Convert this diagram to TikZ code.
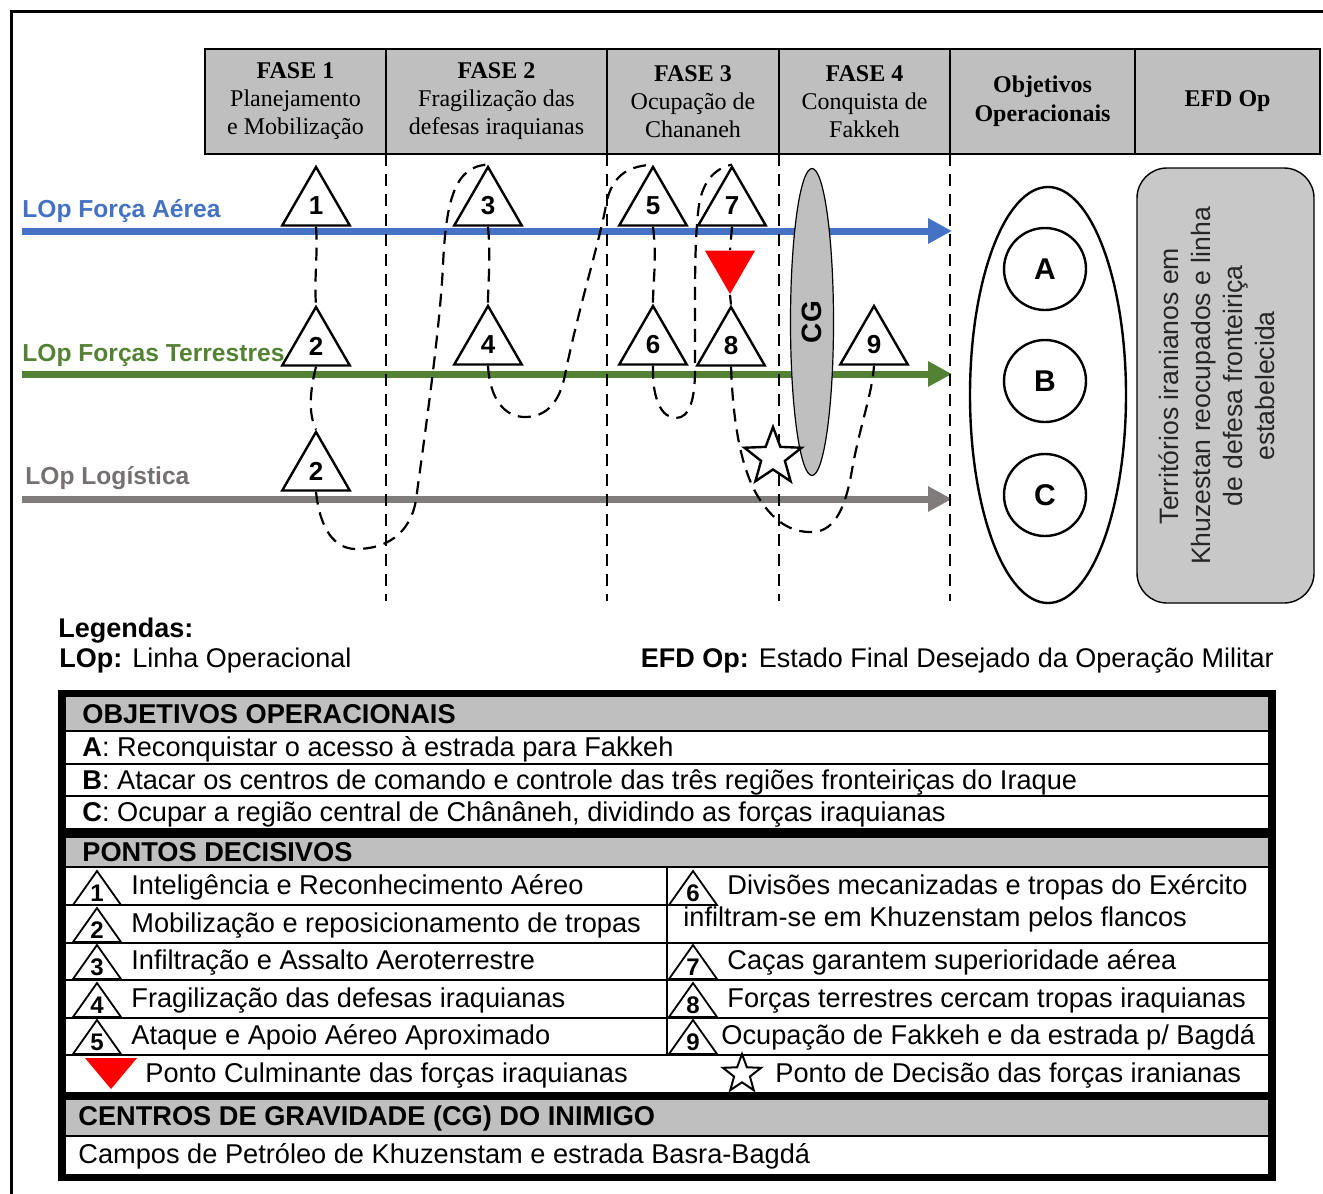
\documentclass[tikz,border=0pt]{standalone}
\usepackage{fontspec}
\setmainfont{Liberation Serif}
\setsansfont{Liberation Sans}
\usetikzlibrary{positioning,arrows.meta,shapes.geometric}

\definecolor{lopblue}{RGB}{68,114,196}
\definecolor{lopgreen}{RGB}{84,130,53}
\definecolor{lopgray}{RGB}{128,124,124}
\definecolor{loptext}{RGB}{118,113,113}
\definecolor{hdrgray}{RGB}{191,191,191}
\definecolor{efdgray}{RGB}{200,200,200}

\begin{document}
\begin{tikzpicture}[x=0.5pt, y=-0.5pt,
  phasebox/.style={draw, line width=0.7pt, fill=hdrgray, inner sep=0pt, outer sep=0pt, minimum height=52.5pt, align=center, font=\rmfamily\fontsize{12}{14}\selectfont},
  phasebold/.style={phasebox, font=\rmfamily\bfseries\fontsize{12}{14.5}\selectfont},
  loplabel/.style={anchor=west, inner sep=0pt, font=\sffamily\bfseries\fontsize{12.3}{14}\selectfont},
  lop/.style={line width=3.5pt, -{Triangle[length=12pt, width=12pt]}},
  phaseline/.style={line width=1.2pt, dash pattern=on 6pt off 4pt},
  route/.style={line width=1.1pt, dash pattern=on 6.5pt off 4pt},
  dpt/.style={regular polygon, regular polygon sides=3, draw, line width=1.2pt, fill=white, minimum size=39pt, inner sep=0pt, font=\sffamily\bfseries\fontsize{13}{13}\selectfont},
  objc/.style={circle, draw, line width=1.2pt, minimum size=41pt, inner sep=0pt, font=\sffamily\bfseries\fontsize{15}{16}\selectfont},
  legtext/.style={anchor=west, inner sep=0pt, font=\sffamily\fontsize{13.5}{16}\selectfont},
  tbltext/.style={anchor=west, inner sep=0pt, yshift=-1.5pt, text height=1.5ex, text depth=.25ex, font=\sffamily\fontsize{13.6}{15}\selectfont},
  tblhead/.style={tbltext, font=\sffamily\bfseries\fontsize{13.6}{15}\selectfont},
  tblline/.style={line width=0.6pt},
  pics/legtri/.style={code={
    \draw[line width=0.9pt, fill=white] (-24,17) -- (0,-17) -- (24,17) -- cycle;
    \node[inner sep=0pt, font=\sffamily\bfseries\fontsize{12}{12}\selectfont] (num) at (0,5) {#1};
  }},
]
\useasboundingbox (0,0) rectangle (1323,1194);
% outer frame
\draw[line width=1.5pt] (11,1194) -- (11,11) -- (1323,11);

% phases header
\node[phasebox, minimum width=90.5pt] (f1) at (295.5,101.5) {\textbf{FASE 1}\\Planejamento\\e Mobilização};
\node[phasebox, minimum width=110.5pt, right=0pt of f1] (f2) {\textbf{FASE 2}\\Fragilização das\\defesas iraquianas};
\node[phasebox, minimum width=86pt, right=0pt of f2] (f3) {\textbf{FASE 3}\\Ocupação de\\Chananeh};
\node[phasebox, minimum width=85.5pt, right=0pt of f3] (f4) {\textbf{FASE 4}\\Conquista de\\Fakkeh};
\node[phasebold, minimum width=92.5pt, right=0pt of f4] (fobj) {Objetivos\\Operacionais};
\node[phasebold, minimum width=92.5pt, right=0pt of fobj] (fefd) {EFD Op};

% lines of operation
\coordinate (aer0) at (22,231);
\coordinate (aer1) at (952,231);
\coordinate (ter0) at (22,374);
\coordinate (ter1) at (952,374);
\coordinate (log0) at (22,499);
\coordinate (log1) at (952,499);
\draw[lop, lopblue] (aer0) -- (aer1);
\draw[lop, lopgreen] (ter0) -- (ter1);
\draw[lop, lopgray] (log0) -- (log1);
\node[loplabel, text=lopblue] (lblaer) at (22,211) {LOp Força Aérea};
\node[loplabel, text=lopgreen] (lblter) at (22,355) {LOp Forças Terrestres};
\node[loplabel, text=loptext] (lbllog) at (25,478) {LOp Logística};

% phase limits
\coordinate (ph1) at (386,601);
\coordinate (ph2) at (607,601);
\coordinate (ph3) at (779,601);
\coordinate (ph4) at (950,601);
\draw[phaseline] (f1.south east) -- (ph1);
\draw[phaseline] (f2.south east) -- (ph2);
\draw[phaseline] (f3.south east) -- (ph3);
\draw[phaseline] (f4.south east) -- (ph4);

% centre of gravity
\node[ellipse, draw, fill=hdrgray, line width=0.6pt, rotate=90, minimum width=153.5pt, minimum height=21.5pt, inner sep=0pt, font=\sffamily\bfseries\fontsize{14}{14}\selectfont] (cg) at (812,322) {CG};

% decisive points
\node[dpt] (p1) at (316,206) {1};
\node[dpt] (p2a) at (316,346) {2};
\node[dpt] (p2b) at (316,471) {2};
\node[dpt] (p3) at (488,206) {3};
\node[dpt] (p4) at (488,345) {4};
\node[dpt] (p5) at (653,206) {5};
\node[dpt] (p6) at (653,345) {6};
\node[dpt] (p7) at (732,206) {7};
\node[dpt] (p8) at (731,346) {8};
\node[dpt] (p9) at (874,345) {9};
\node[regular polygon, regular polygon sides=3, shape border rotate=180, fill=red, minimum size=29pt, inner sep=0pt] (culm) at (730,265) {};

% sequence of decisive points
\draw[route] (p1.south) .. controls (318,255) and (314,280) .. (p2a.north);
\draw[route] (p2a.south) .. controls (309,395) and (309,415) .. (p2b.north);
\draw[route] (p2b.south) .. controls (320,530) and (335,549) .. (356,549)
  .. controls (385,549) and (410,535) .. (416,500)
  .. controls (424,440) and (440,330) .. (443,265)
  .. controls (446,200) and (455,166) .. (p3.north);
\draw[route] (p3.south) .. controls (491,260) and (488,280) .. (p4.north);
\draw[route] (p4.south) .. controls (490,400) and (505,417) .. (525,417)
  .. controls (548,417) and (560,400) .. (565,375)
  .. controls (578,310) and (600,240) .. (606,205)
  .. controls (612,172) and (632,166) .. (p5.north);
\draw[route] (p5.south) .. controls (657,260) and (653,280) .. (p6.north);
\draw[route] (p6.south) .. controls (652,400) and (662,418) .. (676,418)
  .. controls (690,418) and (695,398) .. (695,370)
  .. controls (695,300) and (694,240) .. (699,205)
  .. controls (703,180) and (716,168) .. (p7.north);
\draw[route] (p7.south) -- (culm.north);
\draw[route] (culm.south) -- (p8.north);
\draw[route] (p8.south) .. controls (733,420) and (740,465) .. (757,495)
  .. controls (772,520) and (790,533) .. (813,532)
  .. controls (836,531) and (846,505) .. (852,470)
  .. controls (860,425) and (872,395) .. (p9.south);
\node[star, star points=5, star point ratio=2.4, draw, fill=white, line width=1.2pt, minimum size=30pt, inner sep=0pt] (dec) at (773,457) {};

% operational objectives and end state
\node[ellipse, draw, line width=1.2pt, minimum width=78pt, minimum height=208pt, inner sep=0pt] (objell) at (1048,395) {};
\node[objc] (oa) at (1045,269) {A};
\node[objc] (ob) at (1045,381) {B};
\node[objc] (oc) at (1045,495) {C};
\node[draw, fill=efdgray, rounded corners=15pt, line width=0.7pt, minimum width=88.5pt, minimum height=217.5pt] (efdbox) at (1225.5,385.5) {};
\node[rotate=90, align=center, inner sep=0pt, text=black!85, font=\sffamily\fontsize{13.3}{16}\selectfont] (efdtxt) at (1217,386) {Territórios iranianos em\\Khuzestan reocupados e linha\\de defesa fronteiriça\\estabelecida};

% legend
\node[legtext, font=\sffamily\bfseries\fontsize{13.5}{16}\selectfont] (leg) at (58,631) {Legendas:};
\node[legtext] (leglop) at (59,661) {\textbf{LOp:} Linha Operacional};
\node[legtext, anchor=east] (legefd) at (1274,661) {\textbf{EFD Op:} Estado Final Desejado da Operação Militar};

% table
\fill (58,690) rectangle (1276,1181);
\fill[white] (66,697) rectangle (1268,1174);
\fill[hdrgray] (66,697) rectangle (1268,731);
\fill (66,828) rectangle (1268,838);
\fill[hdrgray] (66,838) rectangle (1268,867);
\fill (66,1092) rectangle (1268,1100);
\fill[hdrgray] (66,1100) rectangle (1268,1136);
\foreach \yy in {731,764,796,867,943,980,1018,1055,1136}
  \draw[tblline] (66,\yy) -- (1268,\yy);
\draw[tblline] (66,905) -- (667,905);
\draw[tblline] (667,867) -- (667,1055);

\node[tblhead] (thobj) at (82,715) {OBJETIVOS OPERACIONAIS};
\node[tbltext] (toa) at (82,748) {\textbf{A}: Reconquistar o acesso à estrada para Fakkeh};
\node[tbltext] (tob) at (82,781) {\textbf{B}: Atacar os centros de comando e controle das três regiões fronteiriças do Iraque};
\node[tbltext] (toc) at (82,813) {\textbf{C}: Ocupar a região central de Chânâneh, dividindo as forças iraquianas};
\node[tblhead] (thpd) at (82,853) {PONTOS DECISIVOS};

\pic (lg1) at (97,888) {legtri=1};
\pic (lg2) at (97,925) {legtri=2};
\pic (lg3) at (97,962) {legtri=3};
\pic (lg4) at (97,1000) {legtri=4};
\pic (lg5) at (97,1037) {legtri=5};
\pic (lg6) at (693,888) {legtri=6};
\pic (lg7) at (693,962) {legtri=7};
\pic (lg8) at (693,1000) {legtri=8};
\pic (lg9) at (693,1037) {legtri=9};
\node[tbltext] (td1) at (131,886) {Inteligência e Reconhecimento Aéreo};
\node[tbltext] (td2) at (131,924) {Mobilização e reposicionamento de tropas};
\node[tbltext] (td3) at (131,961) {Infiltração e Assalto Aeroterrestre};
\node[tbltext] (td4) at (131,999) {Fragilização das defesas iraquianas};
\node[tbltext] (td5) at (131,1036) {Ataque e Apoio Aéreo Aproximado};
\node[tbltext] (td6) at (727,886) {Divisões mecanizadas e tropas do Exército};
\node[tbltext] (td6b) at (683,918) {infiltram-se em Khuzenstam pelos flancos};
\node[tbltext] (td7) at (727,961) {Caças garantem superioridade aérea};
\node[tbltext] (td8) at (727,999) {Forças terrestres cercam tropas iraquianas};
\node[tbltext] (td9) at (721,1036) {Ocupação de Fakkeh e da estrada p/ Bagdá};

\fill[red] (85,1058) -- (137,1058) -- (111,1089) -- cycle;
\node[tbltext] (tdculm) at (145,1074) {Ponto Culminante das forças iraquianas};
\node[star, star points=5, star point ratio=2.4, draw, fill=white, line width=1pt, minimum size=20pt, inner sep=0pt] (legdec) at (742,1074) {};
\node[tbltext] (tddec) at (775,1074) {Ponto de Decisão das forças iranianas};

\node[tblhead] (thcg) at (78,1117) {CENTROS DE GRAVIDADE (CG) DO INIMIGO};
\node[tbltext] (tdcg) at (78,1155) {Campos de Petróleo de Khuzenstam e estrada Basra-Bagdá};
\end{tikzpicture}
\end{document}
